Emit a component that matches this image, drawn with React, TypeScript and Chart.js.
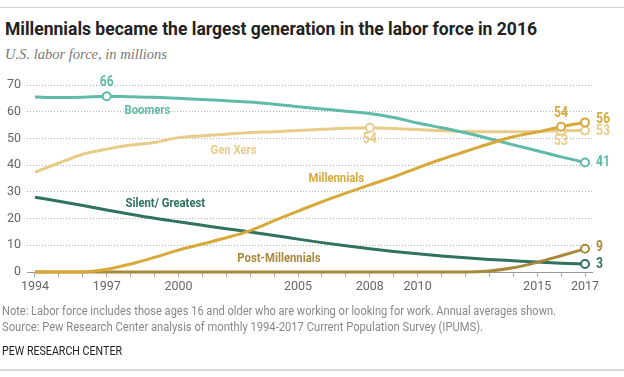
import React, { useEffect, useLayoutEffect, useRef } from "react";
import { Chart, registerables } from "chart.js";

Chart.register(...registerables);

const years = [1994, 1995, 1996, 1997, 1998, 1999, 2000, 2001, 2002, 2003, 2004, 2005, 2006, 2007, 2008, 2009, 2010, 2011, 2012, 2013, 2014, 2015, 2016, 2017];
const tickYears = [1994, 1997, 2000, 2005, 2008, 2010, 2015, 2017];
const yTicks = [0, 10, 20, 30, 40, 50, 60, 70];

const boomers = [65.5, 65.3, 65.4, 65.8, 65.6, 65.4, 65.0, 64.6, 64.1, 63.6, 62.8, 61.9, 61.0, 60.2, 59.3, 57.8, 55.8, 54.0, 52.1, 49.9, 47.6, 45.4, 43.1, 41.0];
const genXers = [37.4, 40.8, 44.1, 46.0, 47.5, 48.5, 50.3, 51.0, 51.6, 52.2, 52.5, 53.0, 53.4, 53.8, 54.0, 53.7, 53.3, 52.9, 52.6, 52.5, 52.5, 52.6, 52.9, 53.0];
const millennials = [0, 0, 0, 1.0, 3.0, 5.5, 8.2, 10.5, 12.8, 15.5, 19.2, 22.8, 26.3, 29.5, 32.6, 35.6, 39.0, 42.2, 45.1, 48.0, 50.6, 52.4, 54.4, 56.0];
const silent = [28.0, 26.5, 24.9, 23.2, 21.6, 20.1, 18.8, 17.5, 16.2, 15.0, 13.7, 12.3, 11.0, 9.8, 8.7, 7.7, 6.8, 6.0, 5.3, 4.7, 4.2, 3.7, 3.3, 3.0];
const postMillennials = [0, 0, 0, 0, 0, 0, 0, 0, 0, 0, 0, 0, 0, 0, 0, 0, 0, 0, 0, 0.4, 1.6, 3.6, 6.1, 8.7];

const boomersMarked = [1997, 2017];
const genXMarked = [2008, 2016, 2017];
const millMarked = [2016, 2017];
const silentMarked = [2017];
const postMarked = [2017];

const C_BOOM = "#5fbaa8";
const C_GENX = "#e9cb88";
const C_MILL = "#d8a93a";
const C_SIL = "#2f7260";
const C_POST = "#a8893a";

const SANS = "Roboto, 'Noto Sans', sans-serif";
const SQUEEZE = 0.87;

const seriesNames = [
  { text: "Boomers", year: 1998.7, value: 60.3, color: C_BOOM },
  { text: "Gen Xers", year: 2002.3, value: 45.3, color: C_GENX },
  { text: "Millennials", year: 2006.6, value: 34.8, color: C_MILL },
  { text: "Silent/ Greatest", year: 1999.45, value: 25.7, color: C_SIL },
  { text: "Post-Millennials", year: 2004.2, value: 4.9, color: C_POST },
];

const callouts: { data: number[]; year: number; text: string; dx: number; dy: number; align: CanvasTextAlign; color: string }[] = [
  { data: boomers, year: 1997, text: "66", dx: 0, dy: -14, align: "center", color: C_BOOM },
  { data: genXers, year: 2008, text: "54", dx: 0, dy: 12, align: "center", color: C_GENX },
  { data: genXers, year: 2016, text: "53", dx: 0, dy: 11, align: "center", color: C_GENX },
  { data: millennials, year: 2016, text: "54", dx: 0, dy: -13, align: "center", color: C_MILL },
  { data: millennials, year: 2017, text: "56", dx: 11, dy: -3, align: "left", color: C_MILL },
  { data: genXers, year: 2017, text: "53", dx: 11, dy: 1, align: "left", color: C_GENX },
  { data: boomers, year: 2017, text: "41", dx: 11, dy: 0, align: "left", color: C_BOOM },
  { data: postMillennials, year: 2017, text: "9", dx: 11, dy: -1, align: "left", color: C_POST },
  { data: silent, year: 2017, text: "3", dx: 11, dy: 1, align: "left", color: C_SIL },
];

function squeezedText(ctx: CanvasRenderingContext2D, text: string, x: number, y: number, align: CanvasTextAlign) {
  ctx.save();
  ctx.translate(x, y);
  ctx.scale(SQUEEZE, 1);
  ctx.textAlign = align;
  ctx.fillText(text, 0, 0);
  ctx.restore();
}

const labelPlugin = {
  id: "labels",
  afterDatasetsDraw(chart: any) {
    const { ctx, scales } = chart;
    const xs = scales.x;
    const ys = scales.y;
    ctx.save();
    ctx.font = `bold 13px ${SANS}`;
    ctx.textBaseline = "middle";
    for (const s of seriesNames) {
      ctx.fillStyle = s.color;
      squeezedText(ctx, s.text, xs.getPixelForValue(s.year), ys.getPixelForValue(s.value), "center");
    }
    ctx.font = `bold 14px ${SANS}`;
    for (const c of callouts) {
      const i = years.indexOf(c.year);
      const px = xs.getPixelForValue(c.year) + c.dx;
      const py = ys.getPixelForValue(c.data[i]) + c.dy;
      ctx.fillStyle = c.color;
      squeezedText(ctx, c.text, px, py, c.align);
    }
    ctx.restore();
  },
};

function makeDataset(label: string, data: number[], color: string, marked: number[]) {
  return {
    label,
    data: years.map((y, i) => ({ x: y, y: data[i] })),
    borderColor: color,
    backgroundColor: "#ffffff",
    borderWidth: 3,
    pointRadius: years.map((y) => (marked.includes(y) ? 4 : 0)),
    pointBorderWidth: 2,
    pointBorderColor: color,
    pointBackgroundColor: "#ffffff",
    cubicInterpolationMode: "monotone" as const,
    clip: false as const,
  };
}

function FitText(props: { width: number; left: number; top: number; style: React.CSSProperties; children: React.ReactNode }) {
  const ref = useRef<HTMLSpanElement | null>(null);
  useLayoutEffect(() => {
    const el = ref.current;
    if (!el) return;
    el.style.transform = "none";
    const w = el.getBoundingClientRect().width;
    if (w > 0) el.style.transform = `scaleX(${props.width / w})`;
  });
  return (
    <span
      ref={ref}
      style={{
        position: "absolute",
        left: props.left,
        top: props.top,
        whiteSpace: "nowrap",
        display: "inline-block",
        transformOrigin: "0 0",
        ...props.style,
      }}
    >
      {props.children}
    </span>
  );
}

export default function App() {
  const ref = useRef<HTMLCanvasElement | null>(null);
  useEffect(() => {
    if (!ref.current) return;
    const chart = new Chart(ref.current, {
      type: "line",
      data: {
        datasets: [
          makeDataset("Millennials", millennials, C_MILL, millMarked),
          makeDataset("Post-Millennials", postMillennials, C_POST, postMarked),
          makeDataset("Silent/ Greatest", silent, C_SIL, silentMarked),
          makeDataset("Boomers", boomers, C_BOOM, boomersMarked),
          makeDataset("Gen Xers", genXers, C_GENX, genXMarked),
        ],
      },
      options: {
        animation: false,
        responsive: false,
        events: [],
        layout: { padding: { top: 85, bottom: 77, left: 0, right: 32 } },
        plugins: { legend: { display: false }, tooltip: { enabled: false }, title: { display: false } },
        scales: {
          x: {
            type: "linear",
            min: 1993.6655,
            max: 2017.2927,
            afterBuildTicks: (scale: any) => {
              scale.ticks = years.map((v) => ({ value: v }));
            },
            afterFit: (scale: any) => {
              scale.height = 28;
            },
            ticks: {
              autoSkip: false,
              maxRotation: 0,
              padding: 2,
              color: "#666",
              font: { family: SANS, size: 12.5 },
              callback: (v: any) => (tickYears.includes(Number(v)) ? String(v) : ""),
            },
            grid: { display: true, drawOnChartArea: false, drawTicks: true, tickLength: 5, color: "#aaa" },
            border: { display: true, color: "#999", width: 1 },
          },
          y: {
            type: "linear",
            min: 0,
            max: 70,
            afterBuildTicks: (scale: any) => {
              scale.ticks = yTicks.map((v) => ({ value: v }));
            },
            afterFit: (scale: any) => {
              scale.width = 27;
            },
            ticks: { padding: 6, color: "#666", font: { family: SANS, size: 12.5 } },
            grid: { color: "#b0b0b0", drawTicks: false, lineWidth: 1 },
            border: { display: false, dash: [1, 2] },
          },
        },
      },
      plugins: [labelPlugin],
    } as any);
    return () => chart.destroy();
  }, []);

  return (
    <div style={{ position: "fixed", left: 0, top: 0, width: 624, height: 377, background: "#fff", overflow: "hidden" }}>
      <div style={{ position: "absolute", left: 0, top: 7, width: 624, height: 1, background: "#d0d0d0" }} />
      <FitText left={5} top={19} width={532} style={{ fontFamily: SANS, fontWeight: "bold", fontSize: 18, lineHeight: "20px", color: "#222" }}>
        Millennials became the largest generation in the labor force in 2016
      </FitText>
      <FitText left={5} top={46} width={162} style={{ fontFamily: "'Liberation Serif', 'DejaVu Serif', serif", fontStyle: "italic", fontSize: 14, lineHeight: "18px", color: "#777" }}>
        U.S. labor force, in millions
      </FitText>
      <canvas ref={ref} width={624} height={377} style={{ position: "absolute", left: 0, top: 0, width: 624, height: 377 }} />
      <FitText left={2} top={304} width={554} style={{ fontFamily: SANS, fontSize: 12, lineHeight: "15px", color: "#888" }}>
        Note: Labor force includes those ages 16 and older who are working or looking for work. Annual averages shown.
      </FitText>
      <FitText left={2} top={320} width={481} style={{ fontFamily: SANS, fontSize: 12, lineHeight: "15px", color: "#888" }}>
        Source: Pew Research Center analysis of monthly 1994-2017 Current Population Survey (IPUMS).
      </FitText>
      <FitText left={2} top={343} width={120} style={{ fontFamily: SANS, fontSize: 12, lineHeight: "16px", color: "#222" }}>
        PEW RESEARCH CENTER
      </FitText>
      <div style={{ position: "absolute", left: 0, top: 369, width: 624, height: 2, background: "#d8d8d8" }} />
    </div>
  );
}
